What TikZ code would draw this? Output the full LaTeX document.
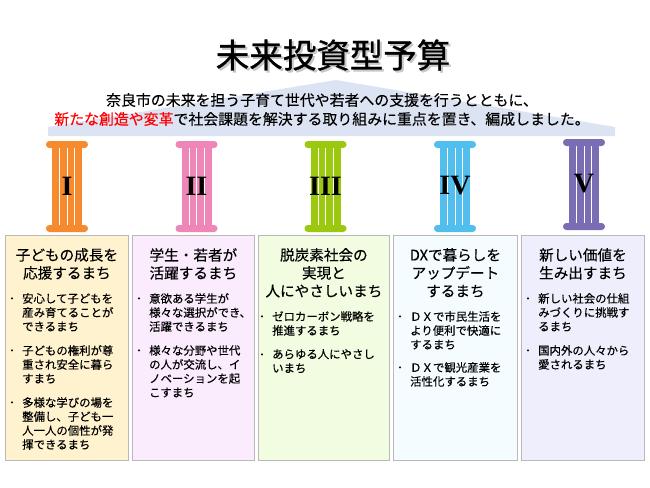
\documentclass[tikz,border=0pt]{standalone}
\usepackage{fontspec}
\setmainfont{Noto Sans CJK JP}[FakeBold=0.25]
\newfontfamily\titlefont{Noto Sans CJK JP}[FakeBold=0.8]
\newfontfamily\numeralfont{Liberation Serif}
\definecolor{roofblue}{HTML}{DCE4F3}
\definecolor{colorange}{HTML}{F58B2E}
\definecolor{colpink}{HTML}{EE86B7}
\definecolor{colgreen}{HTML}{9CC90F}
\definecolor{colblue}{HTML}{52BEEE}
\definecolor{colpurple}{HTML}{7B6DB3}
\definecolor{tinta}{HTML}{FFF2CE}
\definecolor{tintb}{HTML}{FAEBFD}
\definecolor{tintc}{HTML}{F1FCE0}
\definecolor{tintd}{HTML}{F4FCFF}
\definecolor{tinte}{HTML}{EEEEFC}
\begin{document}
\begin{tikzpicture}[x=1pt, y=-1pt,
    title/.style={font=\titlefont\fontsize{33.5}{33.5}\selectfont, inner sep=0pt},
    lead/.style={font=\fontsize{14.9}{17}\selectfont, inner sep=0pt},
    column/.style={rectangle, draw=gray!55, line width=0.8pt, anchor=north west, minimum height=225pt},
    head/.style={align=center, anchor=north, inner sep=0pt, font=\fontsize{14.6}{18}\selectfont},
    item/.style={align=left, anchor=north west, inner sep=0pt, font=\fontsize{11.4}{14}\selectfont},
    dot/.style={inner sep=0pt, font=\fontsize{8}{8}\selectfont},
    numeral/.style={inner sep=0pt, font=\numeralfont\bfseries\fontsize{28}{28}\selectfont}]
    \useasboundingbox (0,0) rectangle (650,487);
    \fill[white] (0,0) rectangle (650,487);

    % roof
    \fill[roofblue] (336,80) -- (615,127) -- (615,136) -- (48,136) -- (48,127) -- cycle;

    % title and lead text
    \node[title, text=gray!60, opacity=0.7] (shadow) at (335,57) {未来投資型予算};
    \node[title] (head0) at (333,55) {未来投資型予算};
    \node[lead] (lead1) at (322,100) {奈良市の未来を担う子育て世代や若者への支援を行うとともに、};
    \node[lead] (lead2) at (322,119) {\textcolor{red}{新たな創造や変革}で社会課題を解決する取り組みに重点を置き、編成しました。};

    % pillars
    \foreach \cx/\cy/\col/\num/\name in {67/0/colorange/I/a, 196.5/0/colpink/II/b, 325.5/0/colgreen/III/c, 455/0/colblue/IV/d, 584/-2/colpurple/V/e} {
        \fill[\col] (\cx-15,147+\cy) rectangle (\cx+15,226+\cy);
        \foreach \dx in {-7.5,0,7.5}
            \draw[white, line width=0.7pt] (\cx+\dx,148+\cy) -- (\cx+\dx,225+\cy);
        \fill[\col, rounded corners=3.4pt] (\cx-21,141+\cy) rectangle (\cx+21,148+\cy);
        \fill[\col, rounded corners=3.4pt] (\cx-21,225+\cy) rectangle (\cx+21,232+\cy);
        \node[numeral] (pillar\name) at (\cx,186+\cy) {\num};
    }

    % columns
    \node[column, fill=tinta, minimum width=123pt] (boxa) at (5,235) {};
    \node[column, fill=tintb, minimum width=122pt] (boxb) at (132,235) {};
    \node[column, fill=tintc, minimum width=131pt] (boxc) at (258,235) {};
    \node[column, fill=tintd, minimum width=124pt] (boxd) at (393,235) {};
    \node[column, fill=tinte, minimum width=123pt] (boxe) at (521,235) {};

    \node[head] at (boxa.north |- 0,248) {子どもの成長を\\応援するまち};
    \node[head] at (boxb.north |- 0,248) {学生・若者が\\活躍するまち};
    \node[head] at (boxc.north |- 0,248) {脱炭素社会の\\実現と\\人にやさしいまち};
    \node[head] at (boxd.north |- 0,248) {DXで暮らしを\\アップデート\\するまち};
    \node[head] at (boxe.north |- 0,248) {新しい価値を\\生み出すまち};

    \foreach \x/\y/\txt in {
        22/293/安心して子どもを\\産み育てることが\\できるまち,
        22/345/子どもの権利が尊\\重され安全に暮ら\\すまち,
        22/397/多様な学びの場を\\整備し、子ども一\\人一人の個性が発\\揮できるまち,
        149/293/意欲ある学生が\\様々な選択ができ、\\活躍できるまち,
        149/345/様々な分野や世代\\の人が交流し、イ\\ノベーションを起\\こすまち,
        272/311/ゼロカーボン戦略を\\推進するまち,
        272/349/あらゆる人にやさし\\いまち,
        410/311/ＤＸで市民生活を\\より便利で快適に\\するまち,
        410/362/ＤＸで観光産業を\\活性化するまち,
        538/293/新しい社会の仕組\\みづくりに挑戦す\\るまち,
        538/345/国内外の人々から\\愛されるまち} {
        \node[item] at (\x,\y) {\txt};
        \node[dot] at (\x-10,\y+6) {•};
    }
\end{tikzpicture}
\end{document}
